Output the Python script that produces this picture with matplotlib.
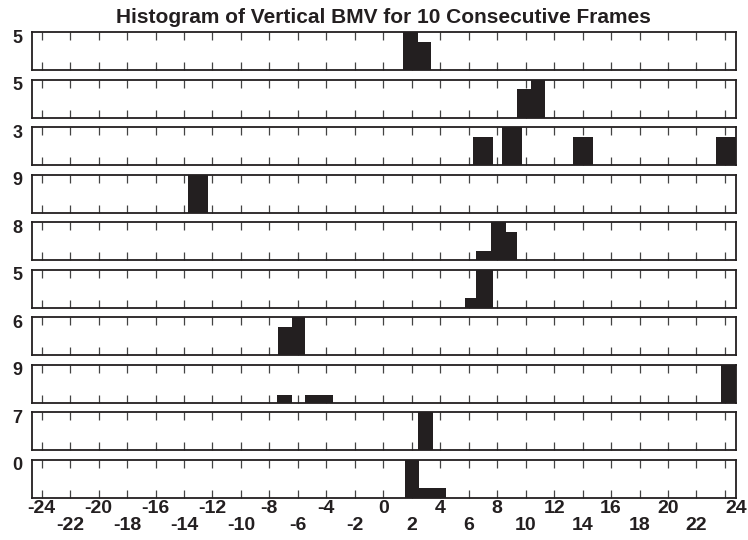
import numpy as np
import matplotlib
matplotlib.use('Agg')
import matplotlib.pyplot as plt

plt.rcParams['font.family'] = ['Liberation Sans', 'DejaVu Sans']
plt.rcParams['font.weight'] = 'bold'

# frame labels, top to bottom
frame_labels = ['5', '5', '3', '9', '8', '5', '6', '9', '7', '0']

# histogram bin edges and counts for each frame (zero counts are gaps)
edges_1 = [1.41, 2.42, 3.35]
counts_1 = [4, 3]
edges_2 = [9.42, 10.40, 11.38]
counts_2 = [3, 4]
edges_3 = [6.28, 7.69, 8.34, 9.73, 13.35, 14.72, 23.38, 24.78]
counts_3 = [3, 0, 4, 0, 3, 0, 3]
edges_4 = [-13.70, -12.34]
counts_4 = [4]
edges_5 = [6.54, 7.59, 8.60, 9.37]
counts_5 = [1, 4, 3]
edges_6 = [5.74, 6.54, 7.71]
counts_6 = [1, 4]
edges_7 = [-7.42, -6.44, -5.48]
counts_7 = [3, 4]
edges_8 = [-7.45, -6.42, -5.50, -4.50, -3.56, 23.71, 24.78]
counts_8 = [1, 0, 1, 1, 0, 5]
edges_9 = [2.46, 3.51]
counts_9 = [4]
edges_10 = [1.52, 2.51, 3.50, 4.39]
counts_10 = [4, 1, 1]

all_edges = [edges_1, edges_2, edges_3, edges_4, edges_5,
             edges_6, edges_7, edges_8, edges_9, edges_10]
all_counts = [counts_1, counts_2, counts_3, counts_4, counts_5,
              counts_6, counts_7, counts_8, counts_9, counts_10]

xticks = np.arange(-24, 25, 2)
xlim = (-24.7, 24.76)

bar_color = '#231f20'

fig, axes = plt.subplots(10, 1, figsize=(7.48, 5.4), dpi=100, sharex=True,
                         gridspec_kw=dict(hspace=0.245))
fig.subplots_adjust(left=0.0424, right=0.9836, top=0.9402, bottom=0.0783)

for ax, edges, counts, lab in zip(axes, all_edges, all_counts, frame_labels):
    ax.stairs(counts, edges, fill=True, color=bar_color, linewidth=0, baseline=0)
    ax.set_xlim(*xlim)
    ax.set_ylim(0, max(counts))
    ax.set_yticks([])
    ax.set_axisbelow(True)
    ax.set_xticks(xticks)
    ax.tick_params(axis='x', direction='in', top=True, bottom=True,
                   length=5.6, width=0.9, color='#444444', pad=1.5)
    for sp in ax.spines.values():
        sp.set_linewidth(1.3)
        sp.set_color(bar_color)
    ax.text(-0.0135, 1.06, lab, transform=ax.transAxes, ha='right', va='top',
            fontsize=13, fontweight='bold', color=bar_color)

# two staggered rows of tick labels on the bottom frame
bottom = axes[-1]
tick_text = [str(v) if v % 4 == 0 else '\n' + str(v) for v in xticks]
bottom.set_xticklabels(tick_text, fontsize=14, fontweight='bold', color=bar_color)
for tl in bottom.get_xticklabels():
    tl.set_linespacing(0.98)
bottom.get_xticklabels()[-1].set_horizontalalignment('left')
for ax in axes[:-1]:
    ax.tick_params(axis='x', labelbottom=False)

axes[0].set_title('Histogram of Vertical BMV for 10 Consecutive Frames',
                  fontsize=15, fontweight='bold', color=bar_color, pad=7)

fig.savefig('out.png', dpi=100)
